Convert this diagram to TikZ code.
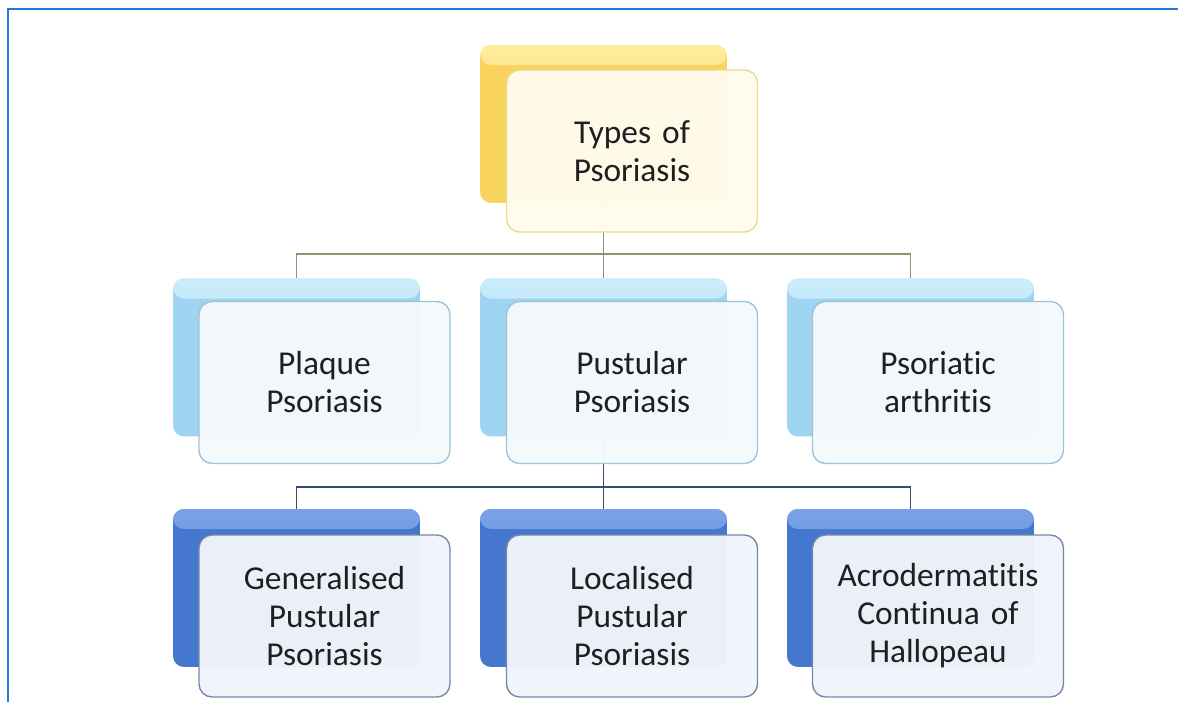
\documentclass[tikz,border=0pt]{standalone}
\usepackage{fontspec}
\setmainfont{Carlito}[Ligatures=NoCommon]
\usepackage{tikz}

\definecolor{frameblue}{HTML}{1E78D8}
\definecolor{ylwback}{HTML}{F8D35E}
\definecolor{ylwtop}{HTML}{FFEC9A}
\definecolor{ylwfront}{HTML}{FFFCEC}
\definecolor{ylwline}{HTML}{EBD993}
\definecolor{skyback}{HTML}{9ED4F2}
\definecolor{skytop}{HTML}{CBEDFB}
\definecolor{skyfront}{HTML}{F4F9FC}
\definecolor{skyline}{HTML}{9CC4D6}
\definecolor{navyback}{HTML}{4677CF}
\definecolor{navytop}{HTML}{79A3E6}
\definecolor{navyfront}{HTML}{F1F4FA}
\definecolor{navyline}{HTML}{7688A8}
\definecolor{olivelink}{HTML}{8B9470}
\definecolor{navylink}{HTML}{3A4A78}

\tikzset{
  frame/.style={frameblue, line width=1.7pt},
  backbox/.style={rectangle, rounded corners=0.22cm, minimum width=4.94cm, minimum height=3.16cm, inner sep=0pt},
  frontbox/.style={rectangle, rounded corners=0.26cm, minimum width=5.02cm, minimum height=3.24cm,
    text width=4.7cm, align=center, line width=0.8pt, fill opacity=0.97, text opacity=1,
    font=\fontsize{19}{21.6}\selectfont, text=black!88},
  topband/.style 2 args={fill=#2, path picture={
    \shade[top color=#1, bottom color=#2] (path picture bounding box.north west)
      rectangle ([yshift=-0.4cm]path picture bounding box.north east);}},
  ylwshade/.style={topband={ylwtop}{ylwback}},
  skyshade/.style={topband={skytop}{skyback}},
  navyshade/.style={topband={navytop}{navyback}},
  link/.style={line width=1.1pt}
}

\begin{document}
\begin{tikzpicture}[x=0.02cm,y=-0.02cm]
      \useasboundingbox (0,0) rectangle (1178,702);
      \draw[frame] (8,702) -- (8,9) -- (1178,9);
      %%%%%%%%%%%%%%%%%%%%%%%%%%%%%%%%%%%%%%%%%%%%%%%
      \node[backbox, ylwshade] at (603.5,124) (tb) {};
      %%%%%%%%%%%%%%%%%%%%%%%%%%%%%%%%%%%%%%%%%%%%%%%
      \node[backbox, skyshade] at (296.5,357.5) (mb1) {};
      \node[backbox, skyshade] at (603.5,357.5) (mb2) {};
      \node[backbox, skyshade] at (910.5,357.5) (mb3) {};
      %%%%%%%%%%%%%%%%%%%%%%%%%%%%%%%%%%%%%%%%%%%%%%%
      \node[backbox, navyshade] at (296.5,588) (bb1) {};
      \node[backbox, navyshade] at (603.5,588) (bb2) {};
      \node[backbox, navyshade] at (910.5,588) (bb3) {};
      %%%%%%%%%%%%%%%%%%%%%%%%%%%%%%%%%%%%%%%%%%%%%%%
      \coordinate (j1) at (603.5,254);
      \coordinate (j2) at (603.5,487);
      \draw[link, olivelink] (tb.south) -- (j1)
            (j1) -| (mb1.north)
            (j1) -- (mb2.north)
            (j1) -| (mb3.north);
      \draw[link, navylink] (mb2.south) -- (j2)
            (j2) -| (bb1.north)
            (j2) -- (bb2.north)
            (j2) -| (bb3.north);
      %%%%%%%%%%%%%%%%%%%%%%%%%%%%%%%%%%%%%%%%%%%%%%%
      \node[frontbox, fill=ylwfront, draw=ylwline] at (632,151) (tf) {Types of\\Psoriasis};
      %%%%%%%%%%%%%%%%%%%%%%%%%%%%%%%%%%%%%%%%%%%%%%%
      \node[frontbox, fill=skyfront, draw=skyline] at (324.5,382.5) (mf1) {Plaque\\Psoriasis};
      \node[frontbox, fill=skyfront, draw=skyline] at (632,382.5)   (mf2) {Pustular\\Psoriasis};
      \node[frontbox, fill=skyfront, draw=skyline] at (938,382.5)   (mf3) {Psoriatic\\arthritis};
      %%%%%%%%%%%%%%%%%%%%%%%%%%%%%%%%%%%%%%%%%%%%%%%
      \node[frontbox, fill=navyfront, draw=navyline] at (324.5,616) (bf1) {Generalised\\Pustular\\Psoriasis};
      \node[frontbox, fill=navyfront, draw=navyline] at (632,616)   (bf2) {Localised\\Pustular\\Psoriasis};
      \node[frontbox, fill=navyfront, draw=navyline] at (938,616)   (bf3) {Acrodermatitis\\Continua of\\Hallopeau};
      %%%%%%%%%%%%%%%%%%%%%%%%%%%%%%%%%%%%%%%%%%%%%%%
\end{tikzpicture}
\end{document}
